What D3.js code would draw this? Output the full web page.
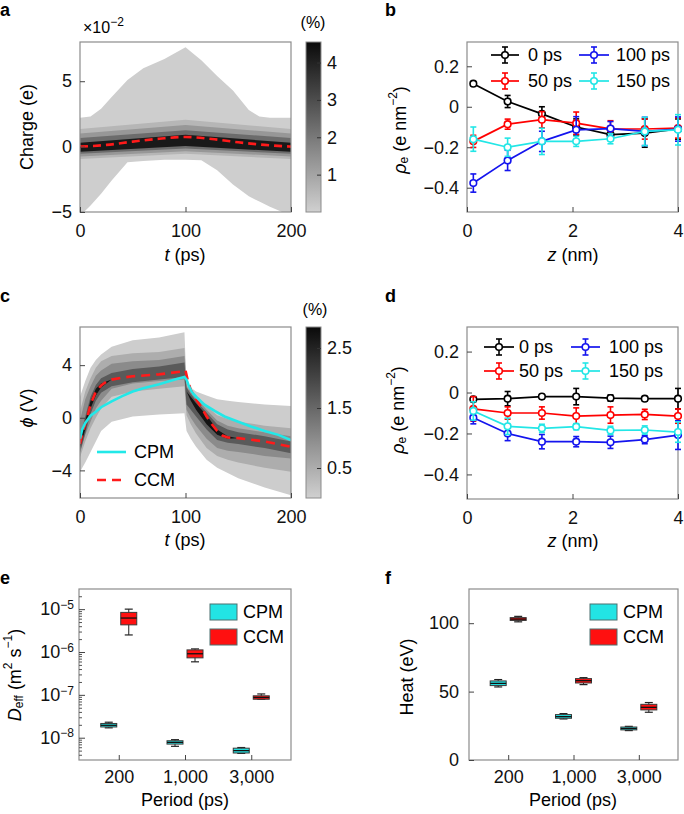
<!DOCTYPE html>
<html><head><meta charset="utf-8">
<script src="https://cdn.jsdelivr.net/npm/d3@7"></script>
<style>body{margin:0;background:#fff} svg{font-family:"Liberation Sans",Arial,Helvetica,sans-serif}</style>
</head><body><svg id="fig" width="684" height="814"></svg>
<script>
// ---------------- DATA ----------------
// Panel a: charge distribution bands (x10^-2 e) vs t (ps)
const aOuterT  = [0,10,20,30,45,60,80,100,115,130,145,160,170,180,190,200];
const aOuterHi = [2.2,2.3,2.9,3.8,5.1,6.0,6.7,7.6,6.6,5.4,4.3,2.8,2.3,2.2,2.2,2.2];
const aOuterLo = [-5.3,-4.5,-3.6,-2.6,-1.2,-1.1,-1.0,-1.0,-1.05,-1.8,-2.9,-3.8,-4.2,-4.6,-4.95,-5.3];
const aInnerT  = [0,100,200];
const aInnerHi = [[1.35,2.05,1.35],[1.0,1.65,1.0],[0.65,1.25,0.65],[0.3,0.9,0.3]];
const aInnerLo = [[-0.95,-0.55,-0.95],[-0.75,-0.35,-0.75],[-0.55,-0.15,-0.55],[-0.4,0.05,-0.4]];
const aLevels  = [0.05,0.6,1.3,2.3,4.2];
const aMeanT   = [0,25,50,75,100,125,150,175,200];
const aMean    = [0,0.13,0.38,0.6,0.74,0.58,0.33,0.13,0];
const aCbarTicks = [1,2,3,4];

// Panel b / d: charge density profiles
const zVals = [0.12,0.77,1.42,2.07,2.72,3.37,4.0];
const timeLabels = ["0 ps","50 ps","100 ps","150 ps"];
const bVals = [
  [0.114,0.026,-0.035,-0.10,-0.138,-0.13,-0.11],
  [-0.171,-0.086,-0.064,-0.081,-0.109,-0.11,-0.105],
  [-0.377,-0.265,-0.171,-0.114,-0.108,-0.122,-0.11],
  [-0.16,-0.2,-0.171,-0.171,-0.158,-0.122,-0.114]
];
const bErr = [
  [0.008,0.03,0.035,0.04,0.02,0.07,0.05],
  [0.03,0.025,0.04,0.055,0.04,0.05,0.05],
  [0.045,0.05,0.05,0.065,0.035,0.07,0.06],
  [0.06,0.045,0.065,0.025,0.025,0.07,0.075]
];
const dVals = [
  [-0.033,-0.03,-0.02,-0.02,-0.027,-0.03,-0.03],
  [-0.08,-0.1,-0.1,-0.115,-0.11,-0.107,-0.115],
  [-0.123,-0.2,-0.24,-0.24,-0.243,-0.23,-0.208],
  [-0.09,-0.165,-0.175,-0.167,-0.185,-0.183,-0.193]
];
const dErr = [
  [0.012,0.035,0.01,0.04,0.015,0.01,0.05],
  [0.06,0.03,0.03,0.04,0.04,0.025,0.035],
  [0.03,0.035,0.035,0.025,0.03,0.02,0.07],
  [0.045,0.04,0.02,0.015,0.02,0.02,0.05]
];

// Panel c: potential distribution bands (V) vs t (ps)
const cT = [0,5,10,15,20,30,50,75,99,101,105,110,120,130,140,150,175,200];
const cBandHi = [
  [1.6,2.8,3.8,4.4,4.8,5.4,5.9,6.1,6.5,2.6,2.3,2.0,1.7,1.4,1.3,1.2,1.0,0.9],
  [0.5,2.0,3.0,3.8,4.3,4.7,4.9,5.0,5.3,2.5,2.1,1.7,0.9,0.2,-0.1,-0.3,-0.6,-0.8],
  [-0.2,1.4,2.4,3.2,3.6,4.1,4.3,4.4,4.7,2.4,1.9,1.5,0.6,-0.2,-0.6,-0.8,-1.1,-1.4],
  [-1.4,0.1,1.6,2.5,3.0,3.4,3.7,3.9,4.2,2.3,1.8,1.3,0.4,-0.5,-0.9,-1.1,-1.4,-1.8],
  [-1.7,-0.2,1.3,2.2,2.6,2.9,3.15,3.3,3.6,2.0,1.6,1.1,0.2,-0.9,-1.4,-1.55,-1.8,-2.2]
];
const cBandLo = [
  [-4.1,-3.4,-2.6,-1.8,-1.0,-0.3,0.1,0.25,0.35,-1.0,-1.6,-2.2,-3.2,-3.8,-4.2,-4.6,-5.3,-5.9],
  [-3.0,-1.8,-0.8,0.0,0.7,1.6,2.0,2.2,2.4,0.2,-0.5,-1.2,-2.3,-2.9,-3.2,-3.4,-3.8,-4.1],
  [-2.7,-1.3,-0.3,0.7,1.3,2.2,2.6,2.8,2.9,0.6,0.0,-0.6,-1.6,-2.3,-2.5,-2.6,-2.9,-3.1],
  [-2.6,-1.2,0.3,1.3,1.9,2.4,2.7,2.9,3.1,1.0,0.6,0.1,-0.9,-1.7,-1.9,-2.0,-2.3,-2.7],
  [-2.3,-0.9,0.7,1.7,2.3,2.9,3.15,3.3,3.6,2.0,1.3,0.6,-0.5,-1.3,-1.6,-1.55,-1.8,-2.2]
];
const cLevels = [0.05,0.5,1.0,1.7,2.7];
const cCpmT = [0,2,5,10,15,20,30,40,50,60,75,90,99,101,103,106,110,118,128,137,150,162,175,188,200];
const cCpm  = [-1.6,-0.9,-0.4,0.15,0.45,0.8,1.25,1.65,2.0,2.25,2.55,2.9,3.1,2.9,2.45,1.95,1.6,1.0,0.5,0.1,-0.3,-0.66,-1.0,-1.3,-1.7];
const cCcmT = [0,3,5,10,15,20,25,30,40,50,75,95,100,102,105,110,115,120,125,130,135,140,150,175,200];
const cCcm  = [-2.0,-1.0,-0.5,1.0,2.0,2.45,2.75,2.9,3.05,3.15,3.3,3.5,3.6,2.9,2.1,1.4,0.8,0.1,-0.5,-1.0,-1.35,-1.5,-1.55,-1.8,-2.2];
const cCbarTicks = [0.5,1.5,2.5];

// Panel e / f: box plots [whiskerLow, q1, median, q3, whiskerHigh]
const periods = ["200","1,000","3,000"];
const methods = ["CPM","CCM"];
const eCPM = [[1.7e-8,1.78e-8,1.95e-8,2.15e-8,2.3e-8],[6.3e-9,7.1e-9,7.8e-9,8.5e-9,9.0e-9],[4.3e-9,4.4e-9,5.0e-9,5.7e-9,5.9e-9]];
const eCCM = [[2.5e-6,4.3e-6,6.2e-6,8.4e-6,1.0e-5],[5.9e-7,7.3e-7,9.1e-7,1.12e-6,1.18e-6],[7.9e-8,7.9e-8,8.7e-8,9.5e-8,1.05e-7]];
const fCPM = [[53.4,54.4,56,57.8,58.8],[30,30.5,31.7,33.2,33.9],[21.5,22,23,24.1,24.6]];
const fCCM = [[101,102,103,104.1,105],[55.1,56.3,58,59.5,60.2],[34.9,36.6,38.5,40.7,42]];

// ---------------- STYLE ----------------
const FS = 18;
const seriesColors = ["#000000","#ff0000","#1414ee","#22e6e6"];
const boxFill = {CPM:"#22e4e4", CCM:"#ff1010"};
const frameColor = "#8c8c8c";
const svg = d3.select("#fig");

function grayScale(max){ return v => d3.interpolateRgb("#d0d0d0","#0a0a0a")(Math.min(1, v/max)); }

function frame(x0,y0,x1,y1){
  svg.append("rect").attr("x",x0).attr("y",y0).attr("width",x1-x0).attr("height",y1-y0)
    .attr("fill","none").attr("stroke",frameColor).attr("stroke-width",1.2);
}
function styleAxis(g){
  g.attr("font-size",FS).attr("font-family",null);
  g.select(".domain").remove();
  g.selectAll(".tick line").attr("stroke","#444");
  g.selectAll(".tick text").attr("fill","#111");
}
function letter(t,x,y){
  svg.append("text").attr("x",x).attr("y",y).attr("font-size",18).attr("font-weight","bold").text(t);
}
function clip(id,x0,y0,x1,y1){
  svg.append("clipPath").attr("id",id).append("rect").attr("x",x0).attr("y",y0).attr("width",x1-x0).attr("height",y1-y0);
}
function minusFmt(v){ return (v<0?"\u2212":"") + d3.format("")(Math.abs(v)); }
function xTitle(cx,y,parts){
  const t = svg.append("text").attr("x",cx).attr("y",y).attr("text-anchor","middle").attr("font-size",FS);
  parts.forEach(p=>{ const s=t.append("tspan").text(p.t); if(p.i) s.attr("font-style","italic"); if(p.dy) s.attr("dy",p.dy); if(p.fs) s.attr("font-size",p.fs); });
}
function yTitle(cx,cy,parts){
  const t = svg.append("text").attr("transform",`translate(${cx},${cy}) rotate(-90)`).attr("text-anchor","middle")
    .attr("dominant-baseline","central").attr("font-size",FS);
  parts.forEach(p=>{ const s=t.append("tspan").text(p.t); if(p.i) s.attr("font-style","italic"); if(p.dy) s.attr("dy",p.dy); if(p.fs) s.attr("font-size",p.fs); });
}
function colorbar(id,x0,y0,x1,y1,max,ticks,fmt){
  const grad = svg.append("defs").append("linearGradient").attr("id",id).attr("x1",0).attr("y1",1).attr("x2",0).attr("y2",0);
  const cs = grayScale(max);
  d3.range(0,1.0001,0.1).forEach(f=>grad.append("stop").attr("offset",f).attr("stop-color",cs(f*max)));
  svg.append("rect").attr("x",x0).attr("y",y0).attr("width",x1-x0).attr("height",y1-y0)
    .attr("fill",`url(#${id})`).attr("stroke",frameColor).attr("stroke-width",1);
  const s = d3.scaleLinear().domain([0,max]).range([y1,y0]);
  const g = svg.append("g").attr("transform",`translate(${x1},0)`)
    .call(d3.axisRight(s).tickValues(ticks).tickSize(-4).tickPadding(6).tickFormat(fmt));
  styleAxis(g);
  g.selectAll(".tick line").attr("stroke","#333");
}

// ---------------- PANEL A ----------------
{
  const x0=80,x1=291,y0=42,y1=212;
  const x = d3.scaleLinear().domain([0,200]).range([x0,x1]);
  const y = d3.scaleLinear().domain([-5,8]).range([y1,y0]);
  const col = grayScale(4.55);
  clip("clipA",x0,y0,x1,y1);
  const g = svg.append("g").attr("clip-path","url(#clipA)");
  const outer = d3.area().x((d,i)=>x(aOuterT[i])).y0((d,i)=>y(aOuterLo[i])).y1((d,i)=>y(aOuterHi[i]));
  g.append("path").datum(aOuterT).attr("d",outer).attr("fill",col(aLevels[0]));
  aInnerHi.forEach((hi,k)=>{
    const ar = d3.area().x((d,i)=>x(aInnerT[i])).y0((d,i)=>y(aInnerLo[k][i])).y1((d,i)=>y(hi[i]));
    g.append("path").datum(aInnerT).attr("d",ar).attr("fill",col(aLevels[k+1]));
  });
  const ln = d3.line().x((d,i)=>x(aMeanT[i])).y(d=>y(d)).curve(d3.curveMonotoneX);
  g.append("path").datum(aMean).attr("d",ln).attr("fill","none").attr("stroke","#ff1a1a").attr("stroke-width",2.6).attr("stroke-dasharray","8,5");
  frame(x0,y0,x1,y1);
  styleAxis(svg.append("g").attr("transform",`translate(${x0},0)`).call(d3.axisLeft(y).tickValues([-5,0,5]).tickSize(-5).tickPadding(8).tickFormat(minusFmt)));
  styleAxis(svg.append("g").attr("transform",`translate(0,${y1})`).call(d3.axisBottom(x).tickValues([0,100,200]).tickSize(-5).tickPadding(12).tickFormat(minusFmt)));
  colorbar("cbA",306,42,321,212,4.55,aCbarTicks,d3.format("d"));
  svg.append("text").attr("x",83).attr("y",33).attr("font-size",16).text("\u00d710").append("tspan").attr("dy",-7).attr("font-size",12).text("\u22122");
  svg.append("text").attr("x",313).attr("y",28).attr("text-anchor","middle").attr("font-size",16).text("(%)");
  yTitle(27,127,[{t:"Charge (e)"}]);
  xTitle(185,261,[{t:"t",i:true},{t:" (ps)"}]);
  letter("a",0,16);
}

// ---------------- PANEL B / D ----------------
function profilePanel(x0,y0,x1,y1,vals,errs,leg){
  const x = d3.scaleLinear().domain([0,4]).range([x0,x1]);
  const y = d3.scaleLinear().domain([-0.52,0.32]).range([y1,y0]);
  frame(x0,y0,x1,y1);
  styleAxis(svg.append("g").attr("transform",`translate(${x0},0)`).call(d3.axisLeft(y).tickValues([-0.4,-0.2,0,0.2]).tickSize(-5).tickPadding(8).tickFormat(minusFmt)));
  styleAxis(svg.append("g").attr("transform",`translate(0,${y1})`).call(d3.axisBottom(x).tickValues([0,2,4]).tickSize(-5).tickPadding(12).tickFormat(minusFmt)));
  vals.forEach((ser,k)=>{
    const c = seriesColors[k];
    const g = svg.append("g");
    g.append("path").datum(ser).attr("d",d3.line().x((d,i)=>x(zVals[i])).y(d=>y(d)))
      .attr("fill","none").attr("stroke",c).attr("stroke-width",1.7);
    ser.forEach((v,i)=>{
      const e = errs[k][i], cx = x(zVals[i]);
      g.append("line").attr("x1",cx).attr("x2",cx).attr("y1",y(v-e)).attr("y2",y(v+e)).attr("stroke",c).attr("stroke-width",1.6);
      [v-e,v+e].forEach(w=>g.append("line").attr("x1",cx-3).attr("x2",cx+3).attr("y1",y(w)).attr("y2",y(w)).attr("stroke",c).attr("stroke-width",1.6));
      g.append("circle").attr("cx",cx).attr("cy",y(v)).attr("r",3.3).attr("fill","#fff").attr("stroke",c).attr("stroke-width",1.6);
    });
  });
  // legend
  timeLabels.forEach((lab,k)=>{
    const col = k===0||k===1 ? 0 : 1;
    const row = k===0||k===2 ? 0 : 1;
    const lx0 = leg.cols[col][0], lx1 = leg.cols[col][1], ty = leg.rows[row];
    const c = seriesColors[k], mx=(lx0+lx1)/2;
    svg.append("line").attr("x1",lx0).attr("x2",lx1).attr("y1",ty).attr("y2",ty).attr("stroke",c).attr("stroke-width",1.7);
    svg.append("line").attr("x1",mx).attr("x2",mx).attr("y1",ty-8).attr("y2",ty+8).attr("stroke",c).attr("stroke-width",1.6);
    [ty-8,ty+8].forEach(w=>svg.append("line").attr("x1",mx-3).attr("x2",mx+3).attr("y1",w).attr("y2",w).attr("stroke",c).attr("stroke-width",1.6));
    svg.append("circle").attr("cx",mx).attr("cy",ty).attr("r",3.3).attr("fill","#fff").attr("stroke",c).attr("stroke-width",1.6);
    svg.append("text").attr("x",leg.cols[col][2]).attr("y",ty).attr("dy","0.35em").attr("font-size",FS).text(lab);
  });
}
profilePanel(467,42,678,212,bVals,bErr,{cols:[[491,519,528],[579,609,616]],rows:[55,81]});
yTitle(400,130,[{t:"\u03c1",i:true},{t:"e",fs:12,dy:4},{t:" (e nm",dy:-4},{t:"\u22122",fs:12,dy:-7},{t:")",dy:7}]);
xTitle(573,261,[{t:"z",i:true},{t:" (nm)"}]);
letter("b",385,16);

profilePanel(467,327,678,499,dVals,dErr,{cols:[[484,514,519],[571,600,609]],rows:[347,371]});
yTitle(398,410,[{t:"\u03c1",i:true},{t:"e",fs:12,dy:4},{t:" (e nm",dy:-4},{t:"\u22122",fs:12,dy:-7},{t:")",dy:7}]);
xTitle(573,547,[{t:"z",i:true},{t:" (nm)"}]);
letter("d",385,302);

// ---------------- PANEL C ----------------
{
  const x0=80,x1=291,y0=327,y1=498;
  const x = d3.scaleLinear().domain([0,200]).range([x0,x1]);
  const y = d3.scaleLinear().domain([-6.1,6.9]).range([y1,y0]);
  const col = grayScale(2.85);
  clip("clipC",x0,y0,x1,y1);
  const g = svg.append("g").attr("clip-path","url(#clipC)");
  cBandHi.forEach((hi,k)=>{
    const ar = d3.area().x((d,i)=>x(cT[i])).y0((d,i)=>y(cBandLo[k][i])).y1((d,i)=>y(hi[i]));
    g.append("path").datum(cT).attr("d",ar).attr("fill",col(cLevels[k]));
  });
  g.append("path").datum(cCcm).attr("d",d3.line().x((d,i)=>x(cCcmT[i])).y(d=>y(d)))
    .attr("fill","none").attr("stroke","#ff1a1a").attr("stroke-width",2.6).attr("stroke-dasharray","9,6");
  g.append("path").datum(cCpm).attr("d",d3.line().x((d,i)=>x(cCpmT[i])).y(d=>y(d)))
    .attr("fill","none").attr("stroke","#22e8e8").attr("stroke-width",2.6);
  frame(x0,y0,x1,y1);
  styleAxis(svg.append("g").attr("transform",`translate(${x0},0)`).call(d3.axisLeft(y).tickValues([-4,0,4]).tickSize(-5).tickPadding(8).tickFormat(minusFmt)));
  styleAxis(svg.append("g").attr("transform",`translate(0,${y1})`).call(d3.axisBottom(x).tickValues([0,100,200]).tickSize(-5).tickPadding(12).tickFormat(minusFmt)));
  colorbar("cbC",306,327,321,498,2.85,cCbarTicks,d3.format(".1f"));
  svg.append("text").attr("x",315).attr("y",315).attr("text-anchor","middle").attr("font-size",16).text("(%)");
  // legend
  svg.append("line").attr("x1",97).attr("x2",126).attr("y1",452).attr("y2",452).attr("stroke","#22e8e8").attr("stroke-width",2.6);
  svg.append("text").attr("x",134).attr("y",452).attr("dy","0.35em").attr("font-size",FS).text(methods[0]);
  svg.append("line").attr("x1",97).attr("x2",126).attr("y1",480).attr("y2",480).attr("stroke","#ff1a1a").attr("stroke-width",2.6).attr("stroke-dasharray","9,6");
  svg.append("text").attr("x",134).attr("y",480).attr("dy","0.35em").attr("font-size",FS).text(methods[1]);
  yTitle(27,408,[{t:"\u03d5",i:true},{t:" (V)"}]);
  xTitle(185,546,[{t:"t",i:true},{t:" (ps)"}]);
  letter("c",0,302);
}

// ---------------- PANEL E / F ----------------
function boxPanel(x0,y0,x1,y1,y,cpm,ccm,legX){
  const x = d3.scalePoint().domain(periods).range([x0,x1]).padding(0.6);
  frame(x0,y0,x1,y1);
  styleAxis(svg.append("g").attr("transform",`translate(0,${y1})`).call(d3.axisBottom(x).tickSize(-5).tickPadding(10)));
  [[cpm,-10,"CPM"],[ccm,10,"CCM"]].forEach(([data,off,m])=>{
    data.forEach((b,i)=>{
      const cx = x(periods[i]) + off, w=16;
      const g = svg.append("g");
      g.append("line").attr("x1",cx).attr("x2",cx).attr("y1",y(b[0])).attr("y2",y(b[4])).attr("stroke","#222").attr("stroke-width",1);
      [b[0],b[4]].forEach(v=>g.append("line").attr("x1",cx-4).attr("x2",cx+4).attr("y1",y(v)).attr("y2",y(v)).attr("stroke","#222").attr("stroke-width",1.2));
      g.append("rect").attr("x",cx-w/2).attr("width",w).attr("y",y(b[3])).attr("height",Math.max(1,y(b[1])-y(b[3])))
        .attr("fill",boxFill[m]).attr("stroke","#3a3a3a").attr("stroke-width",1);
      g.append("line").attr("x1",cx-w/2).attr("x2",cx+w/2).attr("y1",y(b[2])).attr("y2",y(b[2])).attr("stroke","#111").attr("stroke-width",1.3);
    });
  });
  methods.forEach((m,k)=>{
    const ry = 604 + k*25;
    svg.append("rect").attr("x",legX).attr("y",ry).attr("width",27).attr("height",16).attr("fill",boxFill[m]).attr("stroke","#4a7070").attr("stroke-width",1);
    svg.append("text").attr("x",legX+33).attr("y",ry+8).attr("dy","0.35em").attr("font-size",FS).text(m);
  });
}
{
  const x0=79,x1=291,y0=589,y1=760;
  const y = d3.scaleLog().domain([Math.pow(10,-8.52),Math.pow(10,-4.53)]).range([y1,y0]);
  boxPanel(x0,y0,x1,y1,y,eCPM,eCCM,210);
  const minors = [];
  for(let e=-9;e<=-5;e++) for(let m=2;m<=9;m++){ const v=m*Math.pow(10,e); if(v>=y.domain()[0]&&v<=y.domain()[1]) minors.push(v); }
  svg.append("g").attr("transform",`translate(${x0},0)`).call(d3.axisLeft(y).tickValues(minors).tickSize(-3).tickFormat(""))
    .call(g=>{g.select(".domain").remove(); g.selectAll(".tick line").attr("stroke","#555");});
  const ga = svg.append("g").attr("transform",`translate(${x0},0)`).call(d3.axisLeft(y).tickValues([1e-8,1e-7,1e-6,1e-5]).tickSize(-6).tickPadding(5).tickFormat(""));
  styleAxis(ga);
  ga.selectAll(".tick text").each(function(d){
    const t = d3.select(this); const ex = Math.round(Math.log10(d));
    t.text("10"); t.append("tspan").attr("dy","-0.55em").attr("font-size",12).text("\u2212"+Math.abs(ex));
  });
  yTitle(15,675,[{t:"D",i:true},{t:"eff",fs:12,dy:4},{t:" (m",dy:-4},{t:"2",fs:12,dy:-7},{t:" s",dy:7},{t:"\u22121",fs:12,dy:-7},{t:")",dy:7}]);
  xTitle(185,806,[{t:"Period (ps)"}]);
  letter("e",0,584);
}
{
  const x0=469,x1=678,y0=589,y1=760;
  const y = d3.scaleLinear().domain([0,125]).range([y1,y0]);
  boxPanel(x0,y0,x1,y1,y,fCPM,fCCM,590);
  styleAxis(svg.append("g").attr("transform",`translate(${x0},0)`).call(d3.axisLeft(y).tickValues([0,50,100]).tickSize(-5).tickPadding(10)));
  yTitle(407,677,[{t:"Heat (eV)"}]);
  xTitle(573,806,[{t:"Period (ps)"}]);
  letter("f",385,584);
}
</script></body></html>
